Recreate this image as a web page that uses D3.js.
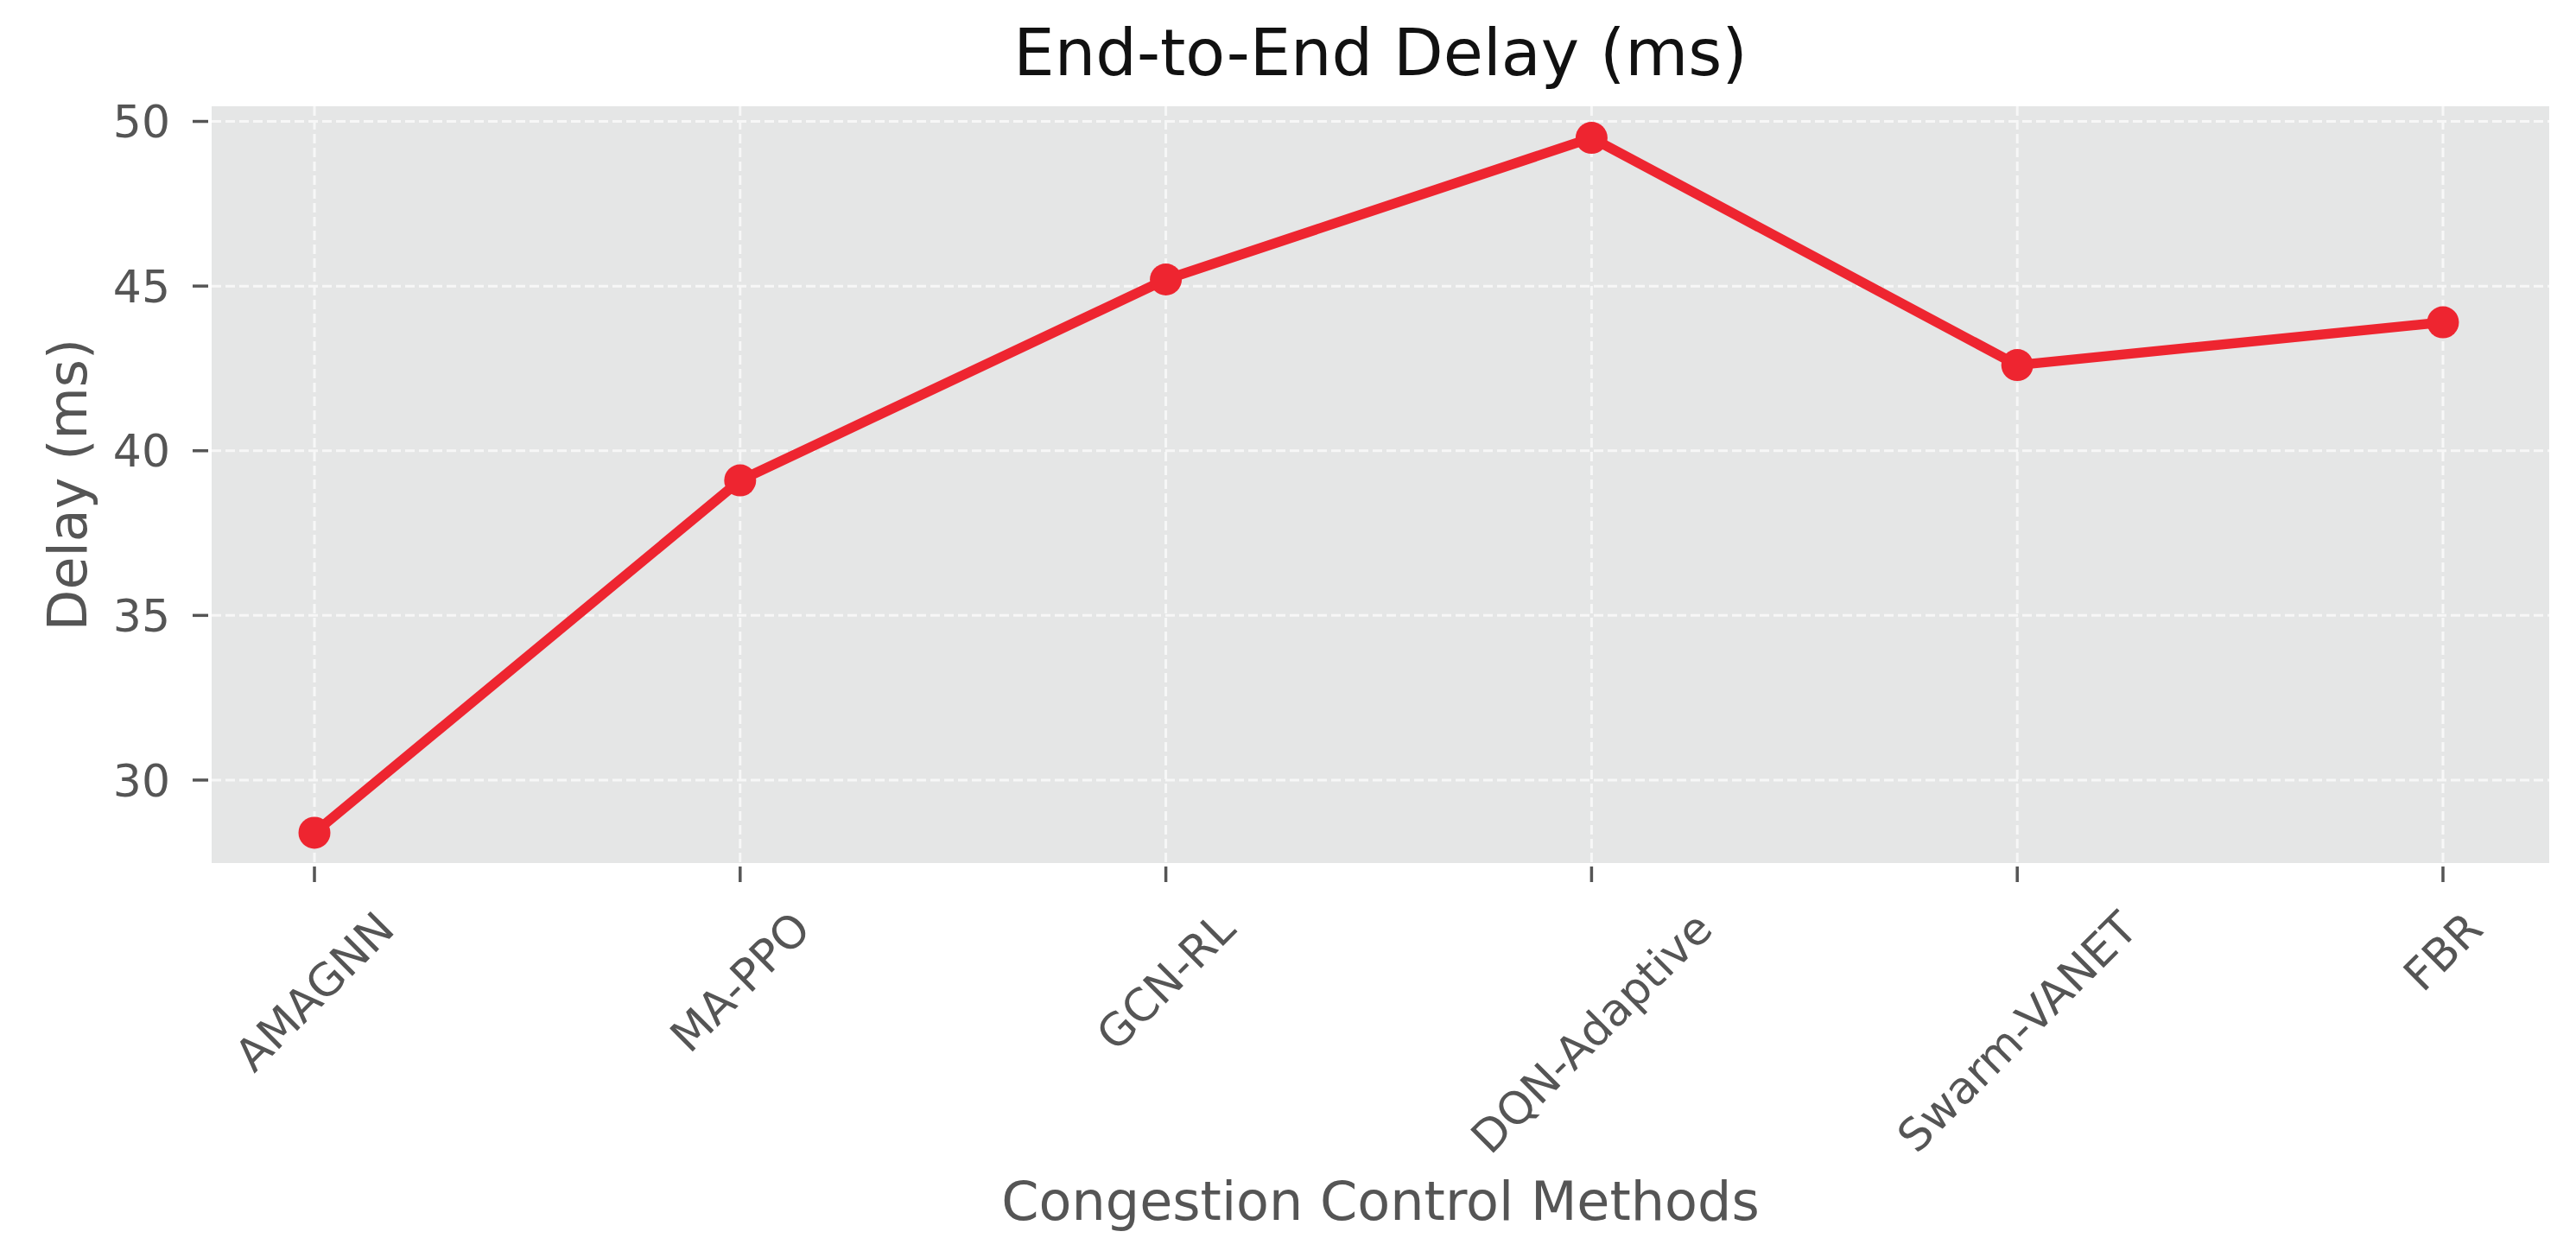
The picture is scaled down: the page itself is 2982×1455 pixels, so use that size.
<!DOCTYPE html>
<html>
<head>
<meta charset="utf-8">
<script src="https://cdn.jsdelivr.net/npm/d3@7"></script>
<style>
  html, body { margin: 0; padding: 0; background: #ffffff; }
  svg { display: block; }
  text { font-family: "DejaVu Sans", sans-serif; }
</style>
</head>
<body>
<svg id="chart" width="2982" height="1455"></svg>
<script>
// ---- data ----
const categories = ["AMAGNN", "MA-PPO", "GCN-RL", "DQN-Adaptive", "Swarm-VANET", "FBR"];
const delays = [28.4, 39.1, 45.2, 49.5, 42.6, 43.9];
const yTicks = [30, 35, 40, 45, 50];
const titleText = "End-to-End Delay (ms)";
const xLabelText = "Congestion Control Methods";
const yLabelText = "Delay (ms)";

// ---- layout ----
const W = 2982, H = 1455;
const plot = { left: 245, right: 2951, top: 123, bottom: 999 };
const tickFont = 52, labelFont = 62, titleFont = 75;
const grey = "#555555";

const svg = d3.select("#chart");

const x = d3.scalePoint().domain(categories).range([364, 2828]);
const y = d3.scaleLinear().domain([27.48, 50.46]).range([plot.bottom, plot.top]);

// background
svg.append("rect")
  .attr("x", plot.left).attr("y", plot.top)
  .attr("width", plot.right - plot.left).attr("height", plot.bottom - plot.top)
  .attr("fill", "#e5e6e6");

// grid
const grid = svg.append("g").attr("stroke", "#ffffff").attr("stroke-width", 3)
  .attr("stroke-dasharray", "11,5").attr("opacity", 0.7);
grid.selectAll("line.h").data(yTicks).join("line")
  .attr("x1", plot.left).attr("x2", plot.right)
  .attr("y1", d => y(d)).attr("y2", d => y(d));
grid.selectAll("line.v").data(categories).join("line")
  .attr("y1", plot.top).attr("y2", plot.bottom)
  .attr("x1", d => x(d)).attr("x2", d => x(d));

// y axis ticks and labels
const yAx = svg.append("g");
yAx.selectAll("line").data(yTicks).join("line")
  .attr("x1", plot.left - 22).attr("x2", plot.left - 4)
  .attr("y1", d => y(d)).attr("y2", d => y(d))
  .attr("stroke", grey).attr("stroke-width", 3.5);
yAx.selectAll("text").data(yTicks).join("text")
  .attr("x", 197).attr("y", d => y(d)).attr("dy", "0.36em")
  .attr("text-anchor", "end").attr("font-size", tickFont).attr("fill", grey)
  .text(d => d);

// x axis ticks and labels
const xAx = svg.append("g");
xAx.selectAll("line").data(categories).join("line")
  .attr("x1", d => x(d)).attr("x2", d => x(d))
  .attr("y1", plot.bottom + 4).attr("y2", plot.bottom + 22)
  .attr("stroke", grey).attr("stroke-width", 3.5);
const labelTop = 1044;
const lineH = 1.164 * tickFont;
xAx.selectAll("text").data(categories).join("text")
  .attr("text-anchor", "middle").attr("font-size", tickFont).attr("fill", grey)
  .attr("dy", "0.346em")
  .text(d => d)
  .each(function(d) {
    const w = this.getComputedTextLength();
    const bh = (w + lineH) * Math.SQRT1_2;
    const cx = x(d), cy = labelTop + bh / 2;
    d3.select(this).attr("transform", `translate(${cx},${cy}) rotate(-45)`);
  });

// line + markers
const lineGen = d3.line().x((d, i) => x(categories[i])).y(d => y(d));
svg.append("path").datum(delays)
  .attr("d", lineGen).attr("fill", "none")
  .attr("stroke", "#ee2530").attr("stroke-width", 11.5)
  .attr("stroke-linejoin", "round").attr("stroke-linecap", "butt");
svg.append("g").selectAll("circle").data(delays).join("circle")
  .attr("cx", (d, i) => x(categories[i])).attr("cy", d => y(d))
  .attr("r", 18.5).attr("fill", "#ee2530");

// title and axis labels
svg.append("text").attr("x", (plot.left + plot.right) / 2).attr("y", 87)
  .attr("text-anchor", "middle").attr("font-size", titleFont).attr("fill", "#111111")
  .text(titleText);
svg.append("text").attr("x", (plot.left + plot.right) / 2).attr("y", 1412)
  .attr("text-anchor", "middle").attr("font-size", labelFont).attr("fill", grey)
  .text(xLabelText);
svg.append("text")
  .attr("transform", `translate(100,${(plot.top + plot.bottom) / 2}) rotate(-90)`)
  .attr("text-anchor", "middle").attr("font-size", labelFont).attr("fill", grey)
  .text(yLabelText);
</script>
</body>
</html>
